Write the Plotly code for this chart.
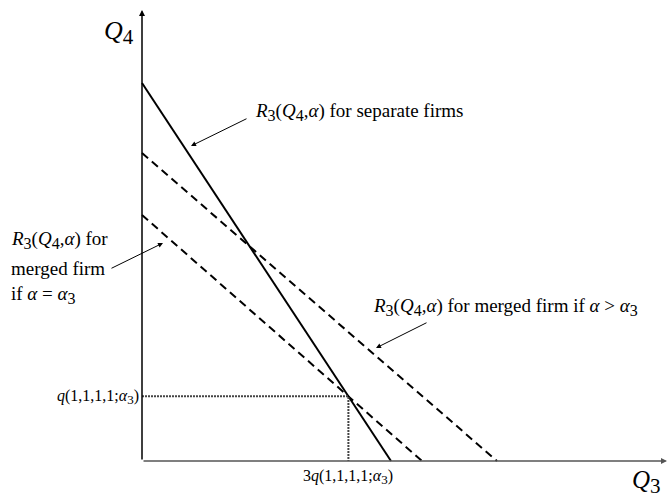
import plotly.graph_objects as go

# Reaction-function lines (intercepts in chart units)
line_names = ["separate firms", "merged firm, alpha > alpha3", "merged firm, alpha = alpha3"]
q4_intercepts = [378, 308, 246]
q3_intercepts = [249, 355, 280]
line_dash = ["solid", "8px,5px", "8px,5px"]

# equilibrium: intersection of separate-firm line and merged (alpha = alpha3) line
a1, b1 = q4_intercepts[0], q3_intercepts[0]
a2, b2 = q4_intercepts[2], q3_intercepts[2]
x_eq = (a1 - a2) / (a1 / b1 - a2 / b2)
y_eq = a1 * (1 - x_eq / b1)

FONT = "Liberation Serif, Times New Roman, serif"


def sub(t, size):
    return f"<sub><span style='font-size:{size}px'>{t}</span></sub>"


fig = go.Figure()
for name, a, b, d in zip(line_names, q4_intercepts, q3_intercepts, line_dash):
    fig.add_trace(go.Scatter(x=[0, b], y=[a, 0], mode="lines", name=name,
                             line=dict(color="black", width=2, dash=d),
                             showlegend=False, hoverinfo="skip"))

# dotted guide lines to the equilibrium
fig.add_trace(go.Scatter(x=[0, x_eq, x_eq], y=[y_eq, y_eq, 0], mode="lines",
                         line=dict(color="#444", width=2, dash="2px,1px"),
                         showlegend=False, hoverinfo="skip"))

anns = []
# axes as arrows
anns.append(dict(x=0, y=451, ax=0, ay=0, xref="x", yref="y", axref="x", ayref="y",
                 text="", showarrow=True, arrowhead=2, arrowsize=0.8, arrowwidth=1.5,
                 arrowcolor="black"))
anns.append(dict(x=525, y=0, ax=0, ay=0, xref="x", yref="y", axref="x", ayref="y",
                 text="", showarrow=True, arrowhead=2, arrowsize=0.8, arrowwidth=1.5,
                 arrowcolor="#555"))
# pointer arrows
for (hx, hy, tx, ty) in [(49, 315, 106, 343), (21, 218, -32, 192), (234, 113, 286, 139)]:
    anns.append(dict(x=hx, y=hy, ax=tx, ay=ty, xref="x", yref="y", axref="x", ayref="y",
                     text="", showarrow=True, arrowhead=2, arrowsize=1, arrowwidth=1,
                     arrowcolor="black"))

R = f"<i>R</i>{sub('3', 16)}(<i>Q</i>{sub('4', 16)},<i>α</i>)"
texts = [
    (111, 349, R + " for separate firms", "left", 19),
    (-133, 221, R + " for", "left", 19),
    (-133, 193, "merged firm", "left", 19),
    (-133, 166, f"if <i>α</i> = <i>α</i>{sub('3', 16)}", "left", 19),
    (229, 154, R + f" for merged firm if <i>α</i> > <i>α</i>{sub('3', 16)}", "left", 19),
    (-40, 429, f"<i>Q</i>{sub('4', 21)}", "left", 26),
    (488, -21, f"<i>Q</i>{sub('3', 21)}", "left", 25),
    (-1, 64, f"<i>q</i>(1,1,1,1;<i>α</i>{sub('3', 13)})", "right", 16),
    (x_eq, -16, f"3<i>q</i>(1,1,1,1;<i>α</i>{sub('3', 13)})", "center", 16),
]
for x, y, t, xa, s in texts:
    anns.append(dict(x=x, y=y, xref="x", yref="y", text=t, showarrow=False,
                     xanchor=xa, yanchor="middle",
                     font=dict(family=FONT, size=s, color="black")))

fig.update_layout(
    width=669, height=497,
    margin=dict(l=0, r=0, t=0, b=0),
    plot_bgcolor="white", paper_bgcolor="white",
    font=dict(family=FONT),
    xaxis=dict(range=[-142, 527], visible=False, fixedrange=True),
    yaxis=dict(range=[-36, 461], visible=False, fixedrange=True),
    annotations=anns,
)
fig.write_html("out.html", config={"displayModeBar": False},
               post_script="document.body.style.margin='0';")
